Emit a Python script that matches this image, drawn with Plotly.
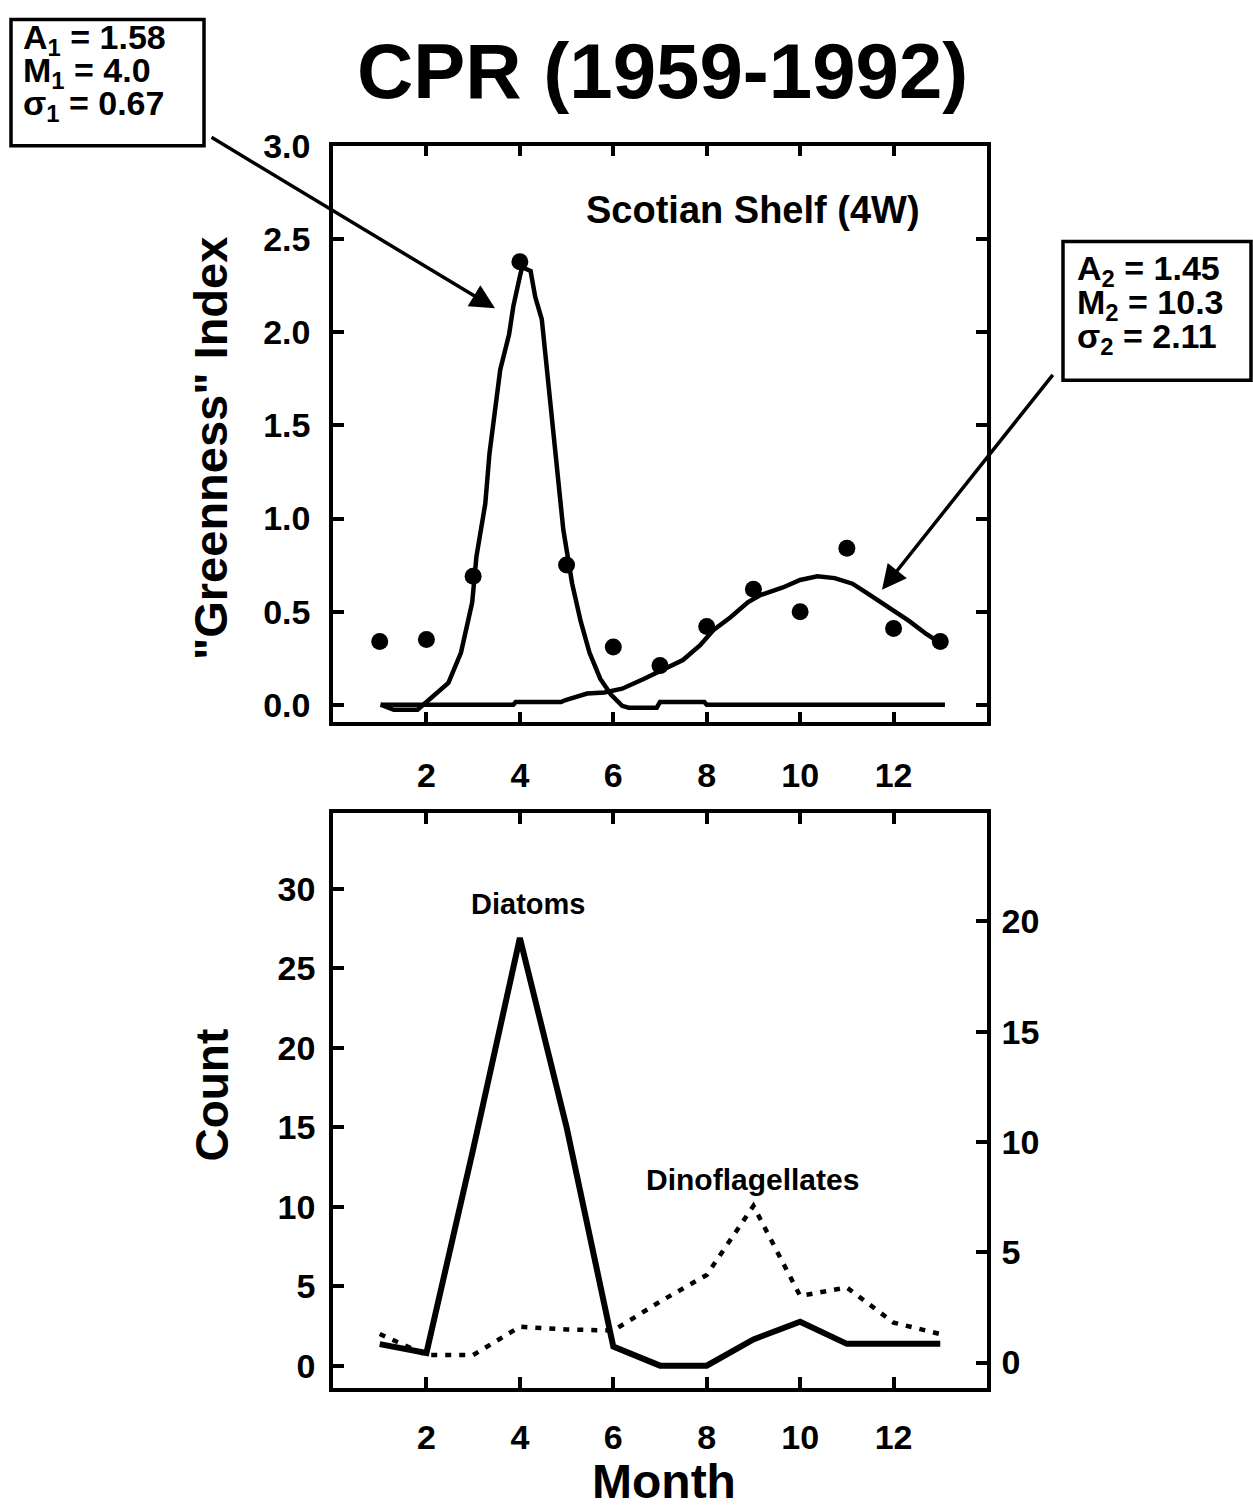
import plotly.graph_objects as go

# ---------------- data ----------------
months = [1, 2, 3, 4, 5, 6, 7, 8, 9, 10, 11, 12, 13]
greenness = [0.34, 0.35, 0.69, 2.38, 0.75, 0.31, 0.21, 0.42, 0.62, 0.50, 0.84, 0.41, 0.34]

fit1_x = [1.02, 1.30, 1.81, 2.09, 2.47, 2.74, 2.98, 3.07, 3.26, 3.35, 3.49, 3.58, 3.77, 3.86,
          4.00, 4.05, 4.23, 4.33, 4.47, 4.56, 4.70, 4.79, 4.93, 5.12, 5.30, 5.49, 5.72, 5.95,
          6.19, 6.33, 6.93, 7.00, 7.16, 7.95, 8.00, 13.10]
fit1_y = [0.0, -0.027, -0.027, 0.035, 0.117, 0.28, 0.55, 0.795, 1.08, 1.35, 1.60, 1.80, 1.99, 2.14,
          2.30, 2.35, 2.33, 2.19, 2.07, 1.84, 1.51, 1.31, 0.94, 0.65, 0.45, 0.28, 0.14, 0.055,
          -0.006, -0.016, -0.016, 0.014, 0.014, 0.014, 0.0, 0.0]

fit2_x = [1.02, 3.86, 3.91, 4.88, 4.98, 5.44, 5.81, 6.19, 6.65, 7.02, 7.49, 7.86, 8.14, 8.51,
          8.88, 9.16, 9.63, 10.00, 10.37, 10.74, 11.12, 11.49, 11.86, 12.33, 12.70, 13.07]
fit2_y = [0.0, 0.0, 0.014, 0.014, 0.025, 0.06, 0.066, 0.086, 0.138, 0.18, 0.24, 0.32, 0.40, 0.47,
          0.55, 0.59, 0.63, 0.67, 0.69, 0.68, 0.65, 0.59, 0.53, 0.45, 0.38, 0.32]

diatoms = [1.35, 0.8, 13.6, 26.9, 15.0, 1.2, 0.0, 0.0, 1.65, 2.76, 1.37, 1.37, 1.37]
dinoflagellates = [1.29, 0.34, 0.34, 1.62, 1.5, 1.45, 2.76, 3.97, 7.1, 3.02, 3.4, 1.81, 1.29]

x_ticks = [2, 4, 6, 8, 10, 12]
green_ticks = [0.0, 0.5, 1.0, 1.5, 2.0, 2.5, 3.0]
count_ticks = [0, 5, 10, 15, 20, 25, 30]
right_ticks = [0, 5, 10, 15, 20]

box1_lines = ["A<sub>1</sub> = 1.58", "M<sub>1</sub> = 4.0", "σ<sub>1</sub> = 0.67"]
box2_lines = ["A<sub>2</sub> = 1.45", "M<sub>2</sub> = 10.3", "σ<sub>2</sub> = 2.11"]

# ---------------- layout helpers ----------------
W, H = 1253, 1510
FONT = "Liberation Sans, Arial, Helvetica, sans-serif"


def px(x):
    return x / W


def Y(y):
    # target pixel row -> layout pixel row (empirical correction of the rendering)
    return max((y - 16) / 0.989, 0.5)


def py(y):
    return 1 - Y(y) / H


fig = go.Figure()

# top panel
fig.add_trace(go.Scatter(x=fit1_x, y=fit1_y, mode="lines", line=dict(color="black", width=4.5),
                         xaxis="x", yaxis="y", showlegend=False))
fig.add_trace(go.Scatter(x=fit2_x, y=fit2_y, mode="lines", line=dict(color="black", width=4.5),
                         xaxis="x", yaxis="y", showlegend=False))
fig.add_trace(go.Scatter(x=months, y=greenness, mode="markers",
                         marker=dict(color="black", size=17), xaxis="x", yaxis="y", showlegend=False))

# bottom panel
fig.add_trace(go.Scatter(x=months, y=diatoms, mode="lines", line=dict(color="black", width=6),
                         xaxis="x2", yaxis="y2", showlegend=False))
fig.add_trace(go.Scatter(x=months, y=dinoflagellates, mode="lines",
                         line=dict(color="black", width=4.5, dash="6px,8px"),
                         xaxis="x2", yaxis="y3", showlegend=False))

xdom = [px(333), px(987)]
top_dom = [py(721), py(143)]
bot_dom = [py(1388), py(812)]

tickfont = dict(family=FONT, size=34, color="black", weight="bold")
common = dict(showline=True, linecolor="black", linewidth=3.5, ticks="inside", ticklen=11,
              tickwidth=3.5, tickcolor="black", showgrid=False, zeroline=False, tickfont=tickfont)

fig.update_layout(
    width=W, height=H, autosize=False,
    margin=dict(l=0, r=0, t=0, b=0),
    paper_bgcolor="white", plot_bgcolor="white",
    font=dict(family=FONT, color="black"),
    xaxis=dict(domain=xdom, range=[0, 14], tickvals=x_ticks, mirror="ticks", anchor="y",
               ticklabelstandoff=20, **common),
    yaxis=dict(domain=top_dom, range=[-0.095, 3.003], tickvals=green_ticks, tickformat=".1f",
               mirror="ticks", anchor="x", ticklabelstandoff=12, **common),
    xaxis2=dict(domain=xdom, range=[0, 14], tickvals=x_ticks, mirror="ticks", anchor="y2",
                ticklabelstandoff=17, **common),
    yaxis2=dict(domain=bot_dom, range=[-1.4, 34.75], tickvals=count_ticks, anchor="x2",
                ticklabelstandoff=7, **common),
    yaxis3=dict(domain=bot_dom, range=[-1.15, 24.9], tickvals=right_ticks, anchor="x2",
                overlaying="y2", side="right", ticklabelstandoff=4, **common),
)

ann = []


def text(x, y, s, size, xanchor="center", yanchor="middle", angle=0):
    ann.append(dict(x=px(x), y=py(y), xref="paper", yref="paper", text=s, showarrow=False,
                    xanchor=xanchor, yanchor=yanchor, textangle=angle,
                    font=dict(family=FONT, size=size, color="black")))


text(662, 68, "<b>CPR (1959-1992)</b>", 78)
text(753, 207, "<b>Scotian Shelf (4W)</b>", 38)
text(528, 903, "<b>Diatoms</b>", 29)
text(752, 1179, "<b>Dinoflagellates</b>", 30)
text(210, 447, "<b>\"Greenness\" Index</b>", 47, angle=-90)
text(212, 1095, "<b>Count</b>", 46, angle=-90)
text(664, 1482, "<b>Month</b>", 48)

for i, s in enumerate(box1_lines):
    text(21, 37 + i * 33, "<b>" + s + "</b>", 34, xanchor="left")
for i, s in enumerate(box2_lines):
    text(1075, 268 + i * 34, "<b>" + s + "</b>", 34, xanchor="left")

# arrows
for (x0, y0, x1, y1) in [(210, 136, 495, 306), (1054, 374, 882, 588)]:
    ann.append(dict(x=px(x1), y=py(y1), xref="paper", yref="paper", ax=x0 - x1, ay=Y(y0) - Y(y1),
                    axref="pixel", ayref="pixel", text="", showarrow=True, arrowhead=2,
                    arrowsize=1.4, arrowwidth=3.5, arrowcolor="black", standoff=0, startstandoff=0))

fig.update_layout(annotations=ann)

fig.update_layout(shapes=[
    dict(type="rect", xref="paper", yref="paper", x0=px(11), y0=py(7), x1=px(204), y1=py(143),
         line=dict(color="black", width=3.5), fillcolor="white", layer="below"),
    dict(type="rect", xref="paper", yref="paper", x0=px(1063), y0=py(239), x1=px(1251), y1=py(378),
         line=dict(color="black", width=3.5), fillcolor="white", layer="below"),
])

fig.write_html("out.html")
